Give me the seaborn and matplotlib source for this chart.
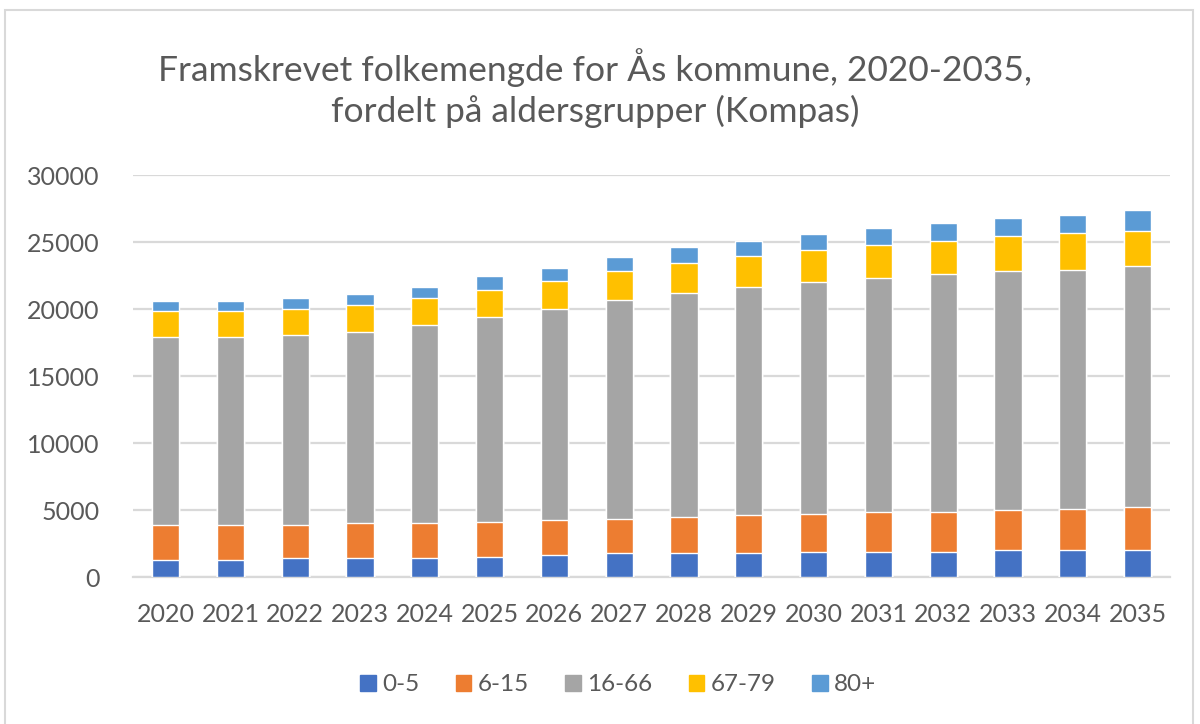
import pandas as pd
import seaborn as sns
import matplotlib.pyplot as plt
from matplotlib.patches import Rectangle

years = [str(y) for y in range(2020, 2036)]
age_0_5 = [1270, 1270, 1395, 1395, 1395, 1515, 1640, 1765, 1765, 1765, 1865, 1865, 1865, 1990, 1990, 1990]
age_6_15 = [2610, 2610, 2485, 2610, 2610, 2615, 2610, 2585, 2710, 2835, 2860, 2985, 2985, 2985, 3110, 3230]
age_16_66 = [14050, 14050, 14200, 14295, 14795, 15270, 15740, 16365, 16710, 17060, 17305, 17505, 17780, 17875, 17850, 18005]
age_67_79 = [1965, 1965, 1910, 2040, 2040, 2035, 2140, 2135, 2265, 2290, 2365, 2415, 2485, 2615, 2765, 2610]
age_80 = [695, 695, 850, 820, 845, 1070, 945, 1070, 1190, 1120, 1215, 1290, 1315, 1315, 1315, 1545]

groups = ["0-5", "6-15", "16-66", "67-79", "80+"]
colors = ["#4472C4", "#ED7D31", "#A5A5A5", "#FFC000", "#5B9BD5"]

df = pd.DataFrame({"year": years, "0-5": age_0_5, "6-15": age_6_15,
                   "16-66": age_16_66, "67-79": age_67_79, "80+": age_80})
cum = df[groups].cumsum(axis=1)
cum["year"] = df["year"]

sns.set_style("white")
plt.rcParams["font.family"] = ["Lato", "DejaVu Sans"]
text_col = "#595959"
grid_col = "#d9d9d9"

fig = plt.figure(figsize=(12, 7.24), dpi=100)
ax = fig.add_axes([0.111, 0.203, 0.864, 0.555])

# stacked bars: draw cumulative totals from the top group down
for g, c in reversed(list(zip(groups, colors))):
    sns.barplot(data=cum, x="year", y=g, color=c, width=0.42, errorbar=None,
                saturation=1, ax=ax, zorder=3)

ax.set_ylim(0, 30000)
ax.set_xlim(-0.5, 15.5)
ax.set_yticks(range(0, 30001, 5000))
ax.yaxis.grid(True, color=grid_col, linewidth=1.6, zorder=0)
ax.set_axisbelow(True)
for s in ["top", "right", "left"]:
    ax.spines[s].set_visible(False)
ax.spines["bottom"].set_color(grid_col)
ax.spines["bottom"].set_linewidth(1.6)
ax.set_xlabel("")
ax.set_ylabel("")
ax.tick_params(axis="y", length=0, labelsize=18, labelcolor=text_col, pad=24)
ax.tick_params(axis="x", which="major", length=0, labelsize=18, labelcolor=text_col, pad=19)
ax.set_xticks([i - 0.5 for i in range(len(years) + 1)], minor=True)
ax.tick_params(axis="x", which="minor", length=9, width=1.6, color=grid_col)

fig.text(0.496, 0.878, "Framskrevet folkemengde for Ås kommune, 2020-2035,\nfordelt på aldersgrupper (Kompas)",
         ha="center", va="center", fontsize=25.5, color=text_col, linespacing=1.3)

handles = [Rectangle((0, 0), 1, 1, color=c) for c in colors]
fig.legend(handles, groups, loc="center", bbox_to_anchor=(0.515, 0.054), ncol=5,
           frameon=False, fontsize=17.5, labelcolor=text_col, handlelength=0.65,
           handleheight=0.65, handletextpad=0.25, columnspacing=1.5)

fig.patches.append(Rectangle((0.004, -0.05), 0.99, 1.036, transform=fig.transFigure,
                             fill=False, edgecolor=grid_col, linewidth=1.5))

fig.savefig("out.png", dpi=100)
